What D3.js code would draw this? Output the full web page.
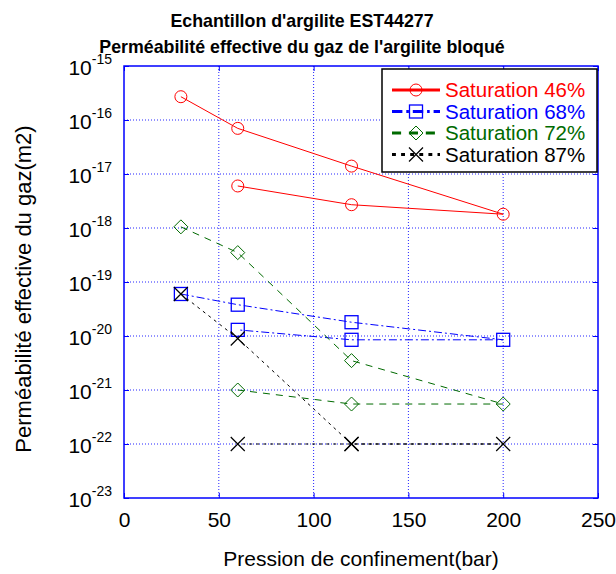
<!DOCTYPE html>
<html>
<head>
<meta charset="utf-8">
<script src="https://cdn.jsdelivr.net/npm/d3@7"></script>
<style>
  body { margin: 0; background: #fff; }
  svg { font-family: "Liberation Sans", Arial, sans-serif; }
</style>
</head>
<body>
<svg id="chart" width="616" height="574"></svg>
<script>
// Loading path then unloading path, same order for every sample
var pressure = [30, 60, 120, 200, 120, 60]
var sat46 = [2.7e-16, 7e-17, 1.4e-17, 1.8e-18, 2.7e-18, 6e-18]
var sat68 = [6e-20, 3.8e-20, 1.8e-20, 8.5e-21, 8.5e-21, 1.3e-20]
var sat72 = [1.05e-18, 3.5e-19, 3.5e-21, 5.5e-22, 5.5e-22, 1e-21]
var sat87 = [6e-20, 9e-21, 1e-22, 1e-22, 1e-22, 1e-22]
var seriesNames = ['Saturation 46%', 'Saturation 68%', 'Saturation 72%', 'Saturation 87%']
var xTicks = [0, 50, 100, 150, 200, 250]
var yExponents = [-23, -22, -21, -20, -19, -18, -17, -16, -15]

var series = [
  { name: seriesNames[0], values: sat46, color: '#ff0000', dash: null, marker: 'circle' },
  { name: seriesNames[1], values: sat68, color: '#0000ff', dash: '8,3,2,3', marker: 'square' },
  { name: seriesNames[2], values: sat72, color: '#006a00', dash: '7,6', marker: 'diamond' },
  { name: seriesNames[3], values: sat87, color: '#000000', dash: '3,4', marker: 'cross' }
]

// note: "top" would clash with window.top, so the plot box uses its own names
var plotL = 124, plotR = 598, plotT = 66, plotB = 498
  , svg = d3.select('#chart')
  , x = d3.scaleLinear().domain([0, 250]).range([plotL, plotR])
  , y = d3.scaleLog().domain([1e-23, 1e-15]).range([plotB, plotT])
  , yTicks = yExponents.map(function(e) { return Math.pow(10, e) })
  , axisBlue = '#0000ff'

// grid
var grid = svg.append('g')
grid.selectAll('line.gx').data(xTicks.slice(1, -1))
  .enter().append('line')
  .attr('x1', x).attr('x2', x).attr('y1', plotT).attr('y2', plotB)
grid.selectAll('line.gy').data(yTicks.slice(1, -1))
  .enter().append('line')
  .attr('x1', plotL).attr('x2', plotR)
  .attr('y1', function(d) { return y(d) }).attr('y2', function(d) { return y(d) })
grid.selectAll('line')
  .attr('stroke', axisBlue).attr('stroke-width', 1)
  .attr('stroke-dasharray', '1,2').attr('opacity', 0.85)

// axes
var xAxis = svg.append('g').attr('transform', 'translate(0,' + plotB + ')')
  .call(d3.axisBottom(x).tickValues(xTicks).tickSizeInner(-5).tickSizeOuter(0).tickPadding(14))
var yAxis = svg.append('g').attr('transform', 'translate(' + plotL + ',0)')
  .call(d3.axisLeft(y).tickValues(yTicks).tickFormat('').tickSizeInner(-5).tickSizeOuter(0))
svg.append('g').attr('transform', 'translate(0,' + plotT + ')')
  .call(d3.axisTop(x).tickValues(xTicks).tickFormat('').tickSizeInner(-5).tickSizeOuter(0))
svg.append('g').attr('transform', 'translate(' + plotR + ',0)')
  .call(d3.axisRight(y).tickValues(yTicks).tickFormat('').tickSizeInner(-5).tickSizeOuter(0))

svg.selectAll('.domain').remove()
svg.selectAll('.tick line').attr('stroke', axisBlue)
xAxis.attr('font-family', null).attr('font-size', 21)
xAxis.selectAll('.tick text').attr('fill', '#000')
yAxis.attr('font-family', null)

yAxis.selectAll('.tick').each(function(d) {
  var t = d3.select(this).append('text')
    .attr('x', -12).attr('y', 8)
    .attr('text-anchor', 'end').attr('fill', '#000')
  t.append('tspan').attr('font-size', 21).text('10')
  t.append('tspan').attr('font-size', 14).attr('dy', -11)
    .text(Math.round(Math.log10(d)))
})

svg.append('rect')
  .attr('x', plotL).attr('y', plotT)
  .attr('width', plotR - plotL).attr('height', plotB - plotT)
  .attr('fill', 'none').attr('stroke', axisBlue).attr('stroke-width', 1.5)

// markers
var drawMarker = function(g, kind, color, cx, cy) {
  if (kind === 'circle')
    g.append('circle').attr('cx', cx).attr('cy', cy).attr('r', 6)
      .attr('fill', 'none').attr('stroke', color)
  else if (kind === 'square')
    g.append('rect').attr('x', cx - 6.5).attr('y', cy - 6.5).attr('width', 13).attr('height', 13)
      .attr('fill', 'none').attr('stroke', color).attr('stroke-width', 1.3)
  else if (kind === 'diamond')
    g.append('path').attr('d', 'M' + cx + ',' + (cy - 7) + 'L' + (cx + 7) + ',' + cy +
      'L' + cx + ',' + (cy + 7) + 'L' + (cx - 7) + ',' + cy + 'Z')
      .attr('fill', 'none').attr('stroke', color)
  else
    g.append('path').attr('d', 'M' + (cx - 7) + ',' + (cy - 7) + 'L' + (cx + 7) + ',' + (cy + 7) +
      'M' + (cx + 7) + ',' + (cy - 7) + 'L' + (cx - 7) + ',' + (cy + 7))
      .attr('stroke', color).attr('stroke-width', 1.2)
}

var line = d3.line()
  .x(function(d) { return x(d[0]) })
  .y(function(d) { return y(d[1]) })

series.forEach(function(s) {
  var pts = d3.zip(pressure, s.values)
    , g = svg.append('g')
  g.append('path').datum(pts).attr('d', line)
    .attr('fill', 'none').attr('stroke', s.color).attr('stroke-width', 1)
    .attr('stroke-dasharray', s.dash)
  pts.forEach(function(p) { drawMarker(g, s.marker, s.color, x(p[0]), y(p[1])) })
})

// legend
var legend = svg.append('g')
legend.append('rect')
  .attr('x', 382).attr('y', 69).attr('width', 215).attr('height', 103)
  .attr('fill', '#fff').attr('stroke', '#000').attr('stroke-width', 1.5)
series.forEach(function(s, i) {
  var ly = 90 + i * 21.5
  legend.append('line')
    .attr('x1', 392).attr('x2', 440).attr('y1', ly).attr('y2', ly)
    .attr('stroke', s.color).attr('stroke-width', 3)
    .attr('stroke-dasharray', s.dash ? s.dash.split(',').map(function(v) { return v * 1.3 }).join(',') : null)
  drawMarker(legend, s.marker, s.color, 416, ly)
  legend.append('text')
    .attr('x', 445).attr('y', ly + 7)
    .attr('font-size', 20.5).attr('fill', s.color)
    .text(s.name)
})

// titles
var title = svg.append('text')
  .attr('text-anchor', 'middle').attr('font-weight', 'bold').attr('font-size', 17.8)
title.append('tspan').attr('x', 302).attr('y', 27).text("Echantillon d'argilite EST44277")
title.append('tspan').attr('x', 302).attr('y', 53).text("Perméabilité effective du gaz de l'argilite bloqué")

svg.append('text')
  .attr('x', (plotL + plotR) / 2).attr('y', 566)
  .attr('text-anchor', 'middle').attr('font-size', 21)
  .text('Pression de confinement(bar)')

svg.append('text')
  .attr('transform', 'translate(31,289) rotate(-90)')
  .attr('text-anchor', 'middle').attr('font-size', 22)
  .text('Perméabilité effective du gaz(m2)')
</script>
</body>
</html>
